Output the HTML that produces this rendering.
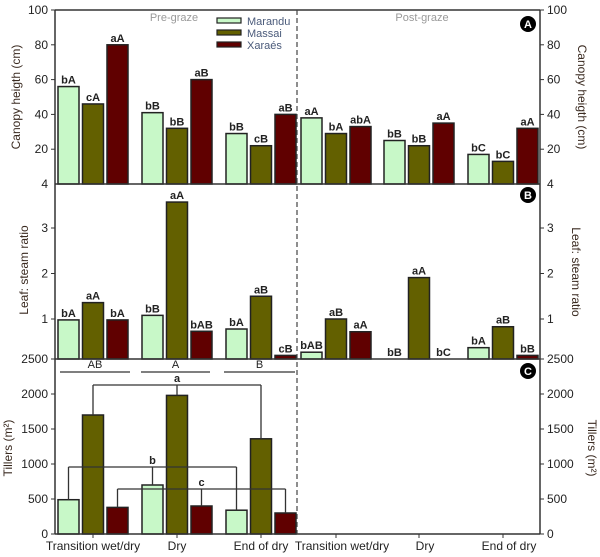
<!DOCTYPE html>
<html><head><meta charset="utf-8"><style>
html,body{margin:0;padding:0;background:#fff;}
svg{display:block;font-family:"Liberation Sans",Arial,sans-serif;}
</style></head><body>
<svg id="chart" width="600" height="557" viewBox="0 0 600 557"></svg>
<script>
const categories = ["Transition wet/dry","Dry","End of dry"];
const cultivars = ["Marandu","Massai","Xaraés"];
const heightPre = [[56,46,80],[41,32,60],[29,22,40]];
const heightPost = [[38,29,33],[25,22,35],[17,13,32]];
const heightPreLbl = [["bA","cA","aA"],["bB","bB","aB"],["bB","cB","aB"]];
const heightPostLbl = [["aA","bA","abA"],["bB","bB","aA"],["bC","bC","aA"]];
const ratioPre = [[0.98,1.36,0.98],[1.08,3.57,0.73],[0.78,1.5,0.2]];
const ratioPost = [[0.27,1.0,0.72],[0,1.91,0],[0.37,0.83,0.2]];
const ratioPreLbl = [["bA","aA","bA"],["bB","aA","bAB"],["bA","aB","cB"]];
const ratioPostLbl = [["bAB","aB","aA"],["bB","aA","bC"],["bA","aB","bB"]];
const tillersPre = [[490,1700,380],[700,1980,400],[340,1360,300]];
const heightTicks = [4,20,40,60,80,100];
const ratioTicks = [1,2,3];
const tillerTicks = [0,500,1000,1500,2000,2500];

const NS="http://www.w3.org/2000/svg";
const svg=document.getElementById('chart');
function el(tag,attrs,parent){const e=document.createElementNS(NS,tag);for(const k in attrs)e.setAttribute(k,attrs[k]);(parent||svg).appendChild(e);return e;}
function txt(s,x,y,attrs){const t=el('text',Object.assign({x:x,y:y},attrs||{}));t.textContent=s;return t;}
const colors=["#c8f8c8","#636000","#600000"];
const L=55,R=540;
const yA=v=>184-v*1.74;
const yB=v=>364.5-v*45.5;
const yC=v=>534-v*0.07;
const preStart=[58,142,226], postStart=[301,384,468];
const bx=(g,i,post)=>(post?postStart:preStart)[g]+i*24.5;
const BW=21;

function drawBars(data,labels,yf,base,post,name){
  data.forEach((grp,g)=>grp.forEach((v,i)=>{
    const x=bx(g,i,post), y=Math.min(yf(v),base);
    if(base-y>0.5){
      const r=el('rect',{x:x,y:y,width:BW,height:base-y,fill:colors[i],stroke:"#222","stroke-width":1.5});
      
      
    }
    if(labels){
      const t=txt(labels[g][i],x+BW/2,y-3,{"text-anchor":"middle","font-size":11,"font-weight":"bold",fill:"#222"});
      
      
    }
  }));
}
drawBars(heightPre,heightPreLbl,yA,184,false,'height-pre');
drawBars(heightPost,heightPostLbl,yA,184,true,'height-post');
drawBars(ratioPre,ratioPreLbl,yB,359,false,'ratio-pre');
drawBars(ratioPost,ratioPostLbl,yB,359,true,'ratio-post');
drawBars(tillersPre,null,yC,534,false,'tillers-pre');

// frame
const ax=el('g',{stroke:"#333","stroke-width":1.5,fill:"none"});


el('line',{x1:L,y1:10,x2:R,y2:10},ax);
el('line',{x1:L,y1:10,x2:L,y2:534},ax);
el('line',{x1:R,y1:10,x2:R,y2:534},ax);
el('line',{x1:L,y1:184,x2:R,y2:184},ax);
el('line',{x1:L,y1:359,x2:R,y2:359},ax);
el('line',{x1:L,y1:534,x2:R,y2:534},ax);
const dv=el('line',{x1:297,y1:10,x2:297,y2:534,stroke:"#444","stroke-width":1.2,"stroke-dasharray":"5,3"});



function ticks(vals,yf,side,fmt){
  vals.forEach(v=>{
    const y=yf(v);
    el('line',{x1:L,y1:y,x2:L-4,y2:y,stroke:"#333"});
    el('line',{x1:R,y1:y,x2:R+4,y2:y,stroke:"#333"});
    const t1=txt(String(v),L-7,y+4,{"text-anchor":"end","font-size":12,fill:"#222"});
    
    
    const t2=txt(String(v),R+7,y+4,{"font-size":12,fill:"#222"});
    
    
  });
}
ticks(heightTicks.filter(v=>v!==4),yA);
ticks(ratioTicks,yB);
ticks(tillerTicks,yC);
[[4,184]].forEach(([v,y])=>{txt("4",L-7,y+4,{"text-anchor":"end","font-size":12,fill:"#222"});txt("4",R+7,y+4,{"font-size":12,fill:"#222"});});

// x labels
categories.forEach((c,g)=>{
  [false,true].forEach(post=>{
    const cx=bx(g,1,post)+BW/2;
    el('line',{x1:cx,y1:534,x2:cx,y2:538,stroke:"#333"});
    const t=txt(c,post?cx+6:cx,550,{"text-anchor":"middle","font-size":12,fill:"#222"});
    
    
  });
});

// axis titles
function rot(s,x,y,a,name){const t=txt(s,x,y,{"text-anchor":"middle","font-size":12,fill:"#3a2a20",transform:`rotate(${a} ${x} ${y})`});}
rot("Canopy heigth (cm)",20,97,-90,'y-axis-title-height');
rot("Leaf: steam ratio",28,270,-90,'y-axis-title-ratio');
rot("Tillers (m²)",12,448,-90,'y-axis-title-tillers');
rot("Canopy heigth (cm)",578,97,90,'y-axis-title-height-right');
rot("Leaf: steam ratio",572,272,90,'y-axis-title-ratio-right');
rot("Tillers (m²)",588,448,90,'y-axis-title-tillers-right');

// panel headers
let t=txt("Pre-graze",174,21,{"text-anchor":"middle","font-size":11,fill:"#999"});
t=txt("Post-graze",422,21,{"text-anchor":"middle","font-size":11,fill:"#999"});
[["A",24],["B",195],["C",371]].forEach(([s,y])=>{
  const c=el('circle',{cx:528,cy:y,r:8,fill:"#000"});
  
  
  txt(s,528,y+4,{"text-anchor":"middle","font-size":11,"font-weight":"bold",fill:"#fff"});
});

// legend
cultivars.forEach((n,i)=>{
  const y=21+i*12;
  const r=el('rect',{x:217,y:y-3,width:24,height:5,fill:colors[i],stroke:"#222","stroke-width":1.2});
  
  
  const tt=txt(n,247,y+4,{"font-size":11,fill:"#4a5a7a"});
  
  
});

// group letters between B and C
[["AB",60,130],["A",141,210],["B",224,295]].forEach(([s,a,b])=>{
  el('line',{x1:a,y1:372,x2:b,y2:372,stroke:"#333","stroke-width":1.2});
  const tt=txt(s,(a+b)/2,368,{"text-anchor":"middle","font-size":11,fill:"#222"});
  
  
});

// brackets in C
function bracket(i,yb,label){
  const g=el('g',{stroke:"#333","stroke-width":1.3,fill:"none"});
  
  
  const xs=[0,1,2].map(k=>bx(k,i,false)+BW/2);
  el('line',{x1:xs[0],y1:yb,x2:xs[2],y2:yb},g);
  [0,2].forEach(k=>el('line',{x1:xs[k],y1:yb,x2:xs[k],y2:yC(tillersPre[k][i])},g));
  el('line',{x1:xs[1],y1:Math.min(yb,yC(tillersPre[1][i])),x2:xs[1],y2:Math.max(yb,yC(tillersPre[1][i]))},g);
  txt(label,xs[1],Math.min(yb,yC(tillersPre[1][i]))-3,{"text-anchor":"middle","font-size":11,"font-weight":"bold",fill:"#222"});
}
bracket(1,385,"a");
bracket(0,467,"b");
bracket(2,489,"c");
</script>
</body></html>
